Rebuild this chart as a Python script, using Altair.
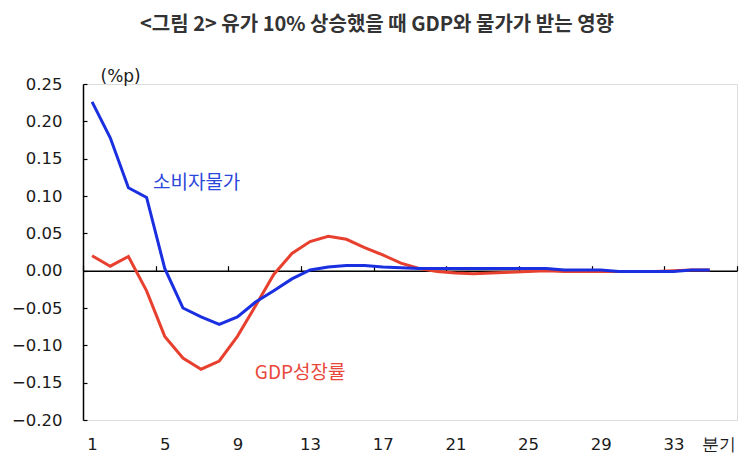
import altair as alt
import pandas as pd

quarters = list(range(1, 36))
cpi = [0.226, 0.178, 0.111, 0.098, 0.003, -0.050, -0.062, -0.072, -0.062, -0.042,
       -0.027, -0.011, 0.001, 0.005, 0.007, 0.007, 0.005, 0.004, 0.003, 0.003,
       0.003, 0.003, 0.003, 0.003, 0.003, 0.003, 0.001, 0.001, 0.001, -0.001,
       -0.001, -0.001, -0.001, 0.001, 0.001]
gdp = [0.020, 0.006, 0.019, -0.027, -0.088, -0.117, -0.132, -0.121, -0.088, -0.047,
       -0.005, 0.023, 0.039, 0.046, 0.042, 0.031, 0.021, 0.010, 0.003, -0.001,
       -0.003, -0.004, -0.003, -0.002, -0.001, 0.000, -0.001, -0.001, -0.001, -0.001,
       -0.001, -0.001, 0.000, 0.001, 0.001]
series_names = ["GDP성장률", "소비자물가"]
series_colors = ["#e8402f", "#1a2fe0"]
label_colors = ["#e8473a", "#2b47db"]

x_label_values = [1, 5, 9, 13, 17, 21, 25, 29, 33, 35.5]
x_tick_values = [0.5, 4.5, 8.5, 12.5, 16.5, 20.5, 24.5, 28.5, 32.5, 36.5]
y_values = [-0.20, -0.15, -0.10, -0.05, 0.00, 0.05, 0.10, 0.15, 0.20, 0.25]

label_x = [9.96, 4.35]
label_y = [-0.137, 0.118]

rows = []
for name, vals in zip(series_names, [gdp, cpi]):
    for q, v in zip(quarters, vals):
        rows.append({"q": q, "v": v, "series": name})
df = pd.DataFrame(rows)
lab = pd.DataFrame({"q": label_x, "v": label_y, "series": series_names})

W, H = 654, 336
xscale = alt.Scale(domain=[0.5, 36.5], nice=False, zero=False)
yscale = alt.Scale(domain=[-0.20, 0.25], nice=False, zero=False)
color = alt.Scale(domain=series_names, range=series_colors)
lcolor = alt.Scale(domain=series_names, range=label_colors)

axis_font = "DejaVu Sans"
kfont = "Noto Sans CJK KR"
ink = "#1a1a1a"

lines = alt.Chart(df).mark_line(strokeWidth=3).encode(
    x=alt.X("q:Q", scale=xscale, axis=alt.Axis(
        orient="top", offset=-(0.25 / 0.45) * H, values=x_tick_values,
        labels=False, ticks=True, tickSize=5, tickColor="#000", tickWidth=1.2,
        domainColor="#000", domainWidth=1.5, grid=False, title=None)),
    y=alt.Y("v:Q", scale=yscale, axis=alt.Axis(
        orient="left", values=y_values, format=".2f", labelFont=axis_font,
        labelFontSize=16.5, labelColor=ink, ticks=False, domain=False,
        labelPadding=21, labelOverlap=False, grid=False,
        title="(%p)", titleAngle=0, titleX=17, titleY=-8, titleAlign="left",
        titleBaseline="middle", titleFont=axis_font, titleFontSize=17,
        titleFontWeight="normal", titleColor=ink)),
    color=alt.Color("series:N", scale=color, legend=None),
    order=alt.Order("series:N"),
)

frame = alt.Chart(df).mark_line(opacity=0).encode(
    x=alt.X("q:Q", scale=xscale, axis=alt.Axis(
        orient="bottom", values=x_label_values, ticks=False, domain=False,
        labelFont=axis_font, labelFontSize=16.5, labelColor=ink, labelPadding=16,
        labelOverlap=False,
        labelExpr="datum.value > 35 ? '분기' : datum.label", grid=False, title=None)),
    y=alt.Y("v:Q", scale=yscale, axis=alt.Axis(
        orient="right", offset=-W, values=y_values, labels=False, ticks=True,
        tickSize=4, tickColor="#000", tickWidth=1.2, domainColor="#000",
        domainWidth=1.5, grid=False, title=None)),
)

texts = alt.Chart(lab).mark_text(align="left", baseline="middle", font=kfont,
                                   fontSize=19).encode(
    x=alt.X("q:Q", scale=xscale, axis=None),
    y=alt.Y("v:Q", scale=yscale, axis=None),
    text="series:N",
    color=alt.Color("series:N", scale=lcolor, legend=None),
)

chart = alt.layer(frame, lines, texts).resolve_axis(
    x="independent", y="independent").resolve_scale(color="independent").properties(
    width=W, height=H,
    autosize=alt.AutoSizeParams(type="none"),
    padding={"left": 75, "top": 76, "right": 10, "bottom": 38},
    title=alt.TitleParams("<그림 2> 유가 10% 상승했을 때 GDP와 물가가 받는 영향",
                          font=kfont, fontSize=20, fontWeight="bold", color="#333",
                          anchor="middle", dx=-33, offset=32),
).configure_view(stroke=None).configure(background="white")

chart.save("out.html", embed_options={"renderer": "svg", "actions": False})
